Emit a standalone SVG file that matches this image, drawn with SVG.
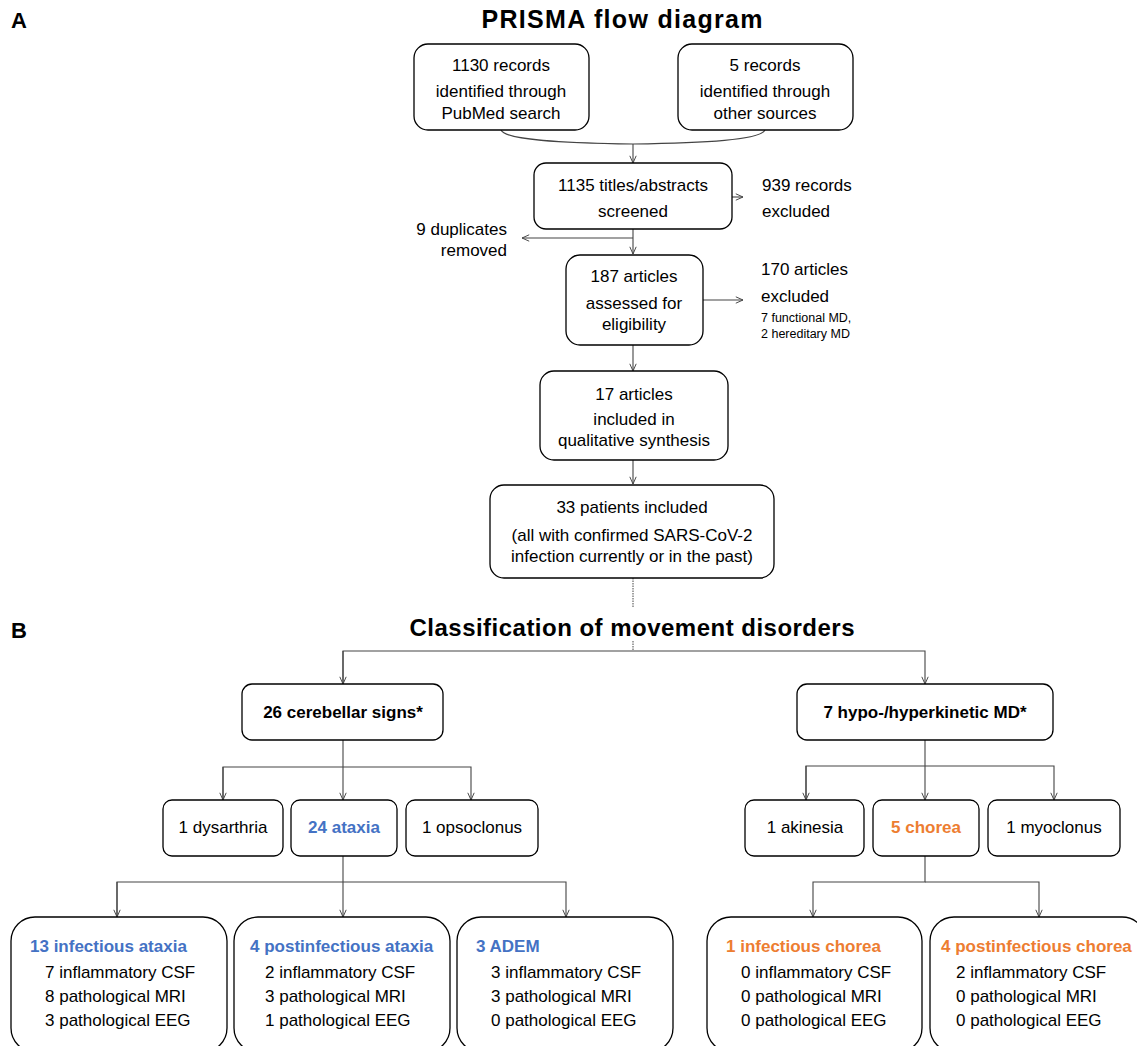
<svg xmlns="http://www.w3.org/2000/svg" width="1137" height="1046" viewBox="0 0 1137 1046">
<style>
text{font-family:"Liberation Sans",Arial,sans-serif;fill:#000;}
.t{font-size:17px;}
.c{text-anchor:middle;}
.b{font-weight:bold;}
.s{font-size:12.5px;}
.h{font-size:17px;font-weight:bold;}
.blue{fill:#4472C4;}
.orange{fill:#ED7D31;}
.box{fill:#fff;stroke:#000;stroke-width:1.3;}
.ln{fill:none;stroke:#444;stroke-width:1.1;}
.dot{fill:none;stroke:#444;stroke-width:1;stroke-dasharray:1.5 1;}
</style>
<defs>
<marker id="ar" viewBox="0 0 10 10" refX="10" refY="5" markerWidth="8" markerHeight="8" markerUnits="userSpaceOnUse" orient="auto">
<path d="M1,1 L10,5 L1,9" fill="none" stroke="#444" stroke-width="1.2"/>
</marker>
</defs>
<rect width="1137" height="1046" fill="#fff"/>
<text x="11" y="28" class="b" font-size="22">A</text>
<text x="622" y="28" class="b c" font-size="25" textLength="281">PRISMA flow diagram</text>
<text x="11" y="638" class="b" font-size="22">B</text>
<text x="632" y="636" class="b c" font-size="24" textLength="445">Classification of movement disorders</text>

<g id="connectors">
<path class="ln" d="M501,130 C505,140 560,143 633,144 C706,143 760,140 765,130"/>
<path class="ln" d="M633,144 V163" marker-end="url(#ar)"/>
<path class="ln" d="M732,197 H743" marker-end="url(#ar)"/>
<path class="ln" d="M633,229 V254" marker-end="url(#ar)"/>
<path class="ln" d="M633,238 H522" marker-end="url(#ar)"/>
<path class="ln" d="M703,300 H743" marker-end="url(#ar)"/>
<path class="ln" d="M633,345 V371" marker-end="url(#ar)"/>
<path class="ln" d="M633,460 V484" marker-end="url(#ar)"/>
<path class="dot" d="M633,578 V607 M633,641 V651"/>
<path class="ln" d="M343,684 V651 H925 V684" marker-end="url(#ar)"/>
<path class="ln" d="M343,651 V684" marker-end="url(#ar)"/>
<path class="ln" d="M343,740 V800" marker-end="url(#ar)"/>
<path class="ln" d="M223,800 V767 H471 V800" marker-end="url(#ar)"/>
<path class="ln" d="M223,767 V800" marker-end="url(#ar)"/>
<path class="ln" d="M925,740 V800" marker-end="url(#ar)"/>
<path class="ln" d="M806,800 V766 H1054 V800" marker-end="url(#ar)"/>
<path class="ln" d="M806,766 V800" marker-end="url(#ar)"/>
<path class="ln" d="M343,856 V917" marker-end="url(#ar)"/>
<path class="ln" d="M117,917 V882 H566 V917" marker-end="url(#ar)"/>
<path class="ln" d="M117,882 V917" marker-end="url(#ar)"/>
<path class="ln" d="M925,856 V882 H813 V917" marker-end="url(#ar)"/>
<path class="ln" d="M925,882 H1039 V917" marker-end="url(#ar)"/>
</g>

<g id="n-pubmed">
<rect class="box" x="414" y="44" width="175" height="86" rx="14"/>
<text class="t c" x="501" y="71">1130 records</text>
<text class="t c" x="501" y="97">identified through</text>
<text class="t c" x="501" y="119">PubMed search</text>
</g>
<g id="n-other">
<rect class="box" x="678" y="44" width="175" height="86" rx="14"/>
<text class="t c" x="765" y="71">5 records</text>
<text class="t c" x="765" y="97">identified through</text>
<text class="t c" x="765" y="119">other sources</text>
</g>
<g id="n-screened">
<rect class="box" x="534" y="163" width="198" height="66" rx="12"/>
<text class="t c" x="633" y="191">1135 titles/abstracts</text>
<text class="t c" x="633" y="217">screened</text>
</g>
<g id="n-excluded939">
<text class="t" x="762" y="191">939 records</text>
<text class="t" x="762" y="217">excluded</text>
</g>
<g id="n-duplicates">
<text class="t" x="507" y="235" text-anchor="end">9 duplicates</text>
<text class="t" x="507" y="256" text-anchor="end">removed</text>
</g>
<g id="n-assessed">
<rect class="box" x="566" y="255" width="137" height="90" rx="14"/>
<text class="t c" x="634" y="282">187 articles</text>
<text class="t c" x="634" y="309">assessed for</text>
<text class="t c" x="634" y="330">eligibility</text>
</g>
<g id="n-excluded170">
<text class="t" x="761" y="275">170 articles</text>
<text class="t" x="761" y="302">excluded</text>
<text class="s" x="761" y="322">7 functional MD,</text>
<text class="s" x="761" y="338">2 hereditary MD</text>
</g>
<g id="n-included">
<rect class="box" x="540" y="371" width="188" height="89" rx="14"/>
<text class="t c" x="634" y="400">17 articles</text>
<text class="t c" x="634" y="425">included in</text>
<text class="t c" x="634" y="446">qualitative synthesis</text>
</g>
<g id="n-patients">
<rect class="box" x="490" y="485" width="284" height="93" rx="14"/>
<text class="t c" x="632" y="513">33 patients included</text>
<text class="t c" x="632" y="541">(all with confirmed SARS-CoV-2</text>
<text class="t c" x="632" y="562">infection currently or in the past)</text>
</g>

<g id="n-cerebellar">
<rect class="box" x="242" y="684" width="201" height="56" rx="10"/>
<text class="h c" x="343" y="718">26 cerebellar signs*</text>
</g>
<g id="n-hypohyper">
<rect class="box" x="797" y="684" width="256" height="56" rx="10"/>
<text class="h c" x="925" y="718">7 hypo-/hyperkinetic MD*</text>
</g>

<g id="n-dysarthria">
<rect class="box" x="163" y="800" width="120" height="56" rx="9"/>
<text class="t c" x="223" y="833">1 dysarthria</text>
</g>
<g id="n-ataxia">
<rect class="box" x="291" y="800" width="106" height="56" rx="9"/>
<text class="h c blue" x="344" y="833">24 ataxia</text>
</g>
<g id="n-opsoclonus">
<rect class="box" x="406" y="800" width="132" height="56" rx="9"/>
<text class="t c" x="472" y="833">1 opsoclonus</text>
</g>
<g id="n-akinesia">
<rect class="box" x="745" y="800" width="119" height="56" rx="9"/>
<text class="t c" x="805" y="833">1 akinesia</text>
</g>
<g id="n-chorea">
<rect class="box" x="873" y="800" width="106" height="56" rx="9"/>
<text class="h c orange" x="926" y="833">5 chorea</text>
</g>
<g id="n-myoclonus">
<rect class="box" x="988" y="800" width="132" height="56" rx="9"/>
<text class="t c" x="1054" y="833">1 myoclonus</text>
</g>

<g id="n-infataxia">
<rect class="box" x="11" y="917" width="216" height="135" rx="24"/>
<text class="h blue" x="30" y="952">13 infectious ataxia</text>
<text class="t" x="45" y="978">7 inflammatory CSF</text>
<text class="t" x="45" y="1002">8 pathological MRI</text>
<text class="t" x="45" y="1026">3 pathological EEG</text>
</g>
<g id="n-postataxia">
<rect class="box" x="234" y="917" width="216" height="135" rx="24"/>
<text class="h blue" x="250" y="952">4 postinfectious ataxia</text>
<text class="t" x="265" y="978">2 inflammatory CSF</text>
<text class="t" x="265" y="1002">3 pathological MRI</text>
<text class="t" x="265" y="1026">1 pathological EEG</text>
</g>
<g id="n-adem">
<rect class="box" x="457" y="917" width="216" height="135" rx="24"/>
<text class="h blue" x="476" y="952">3 ADEM</text>
<text class="t" x="491" y="978">3 inflammatory CSF</text>
<text class="t" x="491" y="1002">3 pathological MRI</text>
<text class="t" x="491" y="1026">0 pathological EEG</text>
</g>
<g id="n-infchorea">
<rect class="box" x="707" y="917" width="215" height="135" rx="24"/>
<text class="h orange" x="726" y="952">1 infectious chorea</text>
<text class="t" x="741" y="978">0 inflammatory CSF</text>
<text class="t" x="741" y="1002">0 pathological MRI</text>
<text class="t" x="741" y="1026">0 pathological EEG</text>
</g>
<g id="n-postchorea">
<rect class="box" x="930" y="917" width="216" height="135" rx="24"/>
<text class="h orange" x="941" y="952">4 postinfectious chorea</text>
<text class="t" x="956" y="978">2 inflammatory CSF</text>
<text class="t" x="956" y="1002">0 pathological MRI</text>
<text class="t" x="956" y="1026">0 pathological EEG</text>
</g>
</svg>
